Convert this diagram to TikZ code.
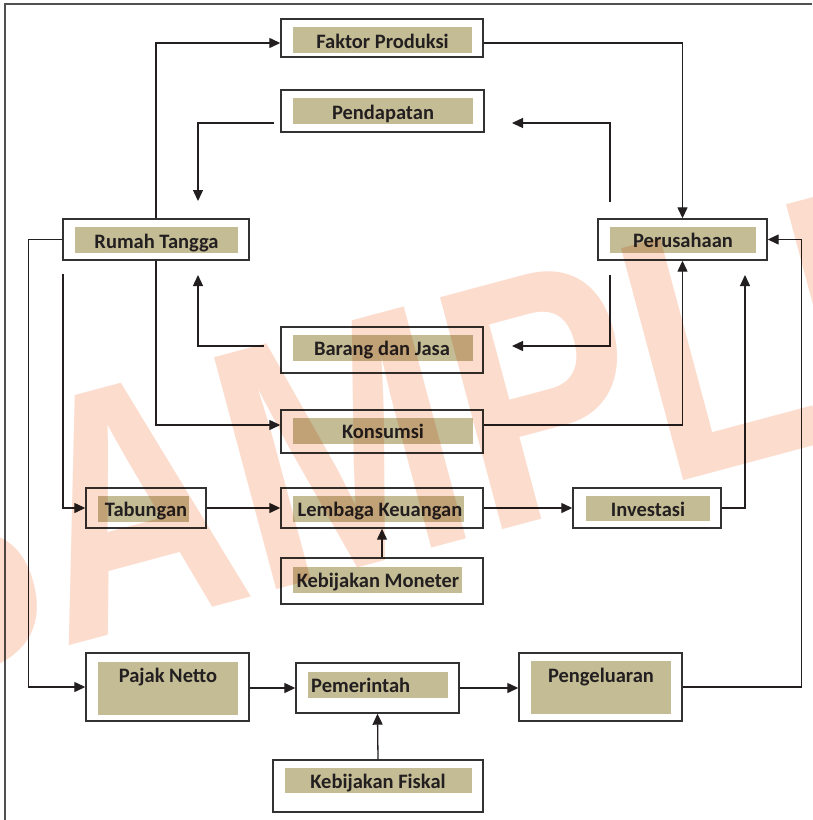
\documentclass[tikz,border=0pt]{standalone}
\usepackage{fontspec}
\setmainfont{Carlito}
\newfontfamily\wmfont{Liberation Sans}
\usetikzlibrary{arrows.meta,fit}
\definecolor{tanfill}{RGB}{196,188,148}
\definecolor{ink}{RGB}{35,31,32}
\definecolor{boxline}{RGB}{50,50,50}
\definecolor{wmcol}{RGB}{252,220,205}
\definecolor{framecol}{RGB}{80,80,80}
\begin{document}
\begin{tikzpicture}[x=1pt,y=-1pt,
  outerbox/.style={draw=boxline, line width=1.4pt, fill=white, inner sep=0pt},
  tanbox/.style={fill=tanfill, inner sep=0pt},
  lbl/.style={font=\bfseries\fontsize{20.5}{24}\selectfont, text=ink, anchor=base, inner sep=0pt},
  conn/.style={draw=ink, line width=1.3pt},
  arr/.style={conn, -{Triangle[length=11pt,width=10pt]}},
  framestyle/.style={draw=framecol, line width=1.3pt}
]
\useasboundingbox (0,0) rectangle (812,820);
\fill[white] (0,0) rectangle (812,820);
\draw[framestyle] (812,4) -- (5,4) -- (5,820);

% boxes
\node[outerbox, fit={(281,19)(483,57)}] (fp) {};
\node[tanbox, fit={(293,27)(472,53)}] (fp-in) {};
\node[lbl] (fp-t) at (382.5,48) {Faktor Produksi};

\node[outerbox, fit={(281,90)(484,132)}] (pd) {};
\node[tanbox, fit={(293,98)(473,124)}] (pd-in) {};
\node[lbl] (pd-t) at (383,119) {Pendapatan};

\node[outerbox, fit={(63,219)(249,260)}] (rt) {};
\node[tanbox, fit={(75,227)(238,253)}] (rt-in) {};
\node[lbl] (rt-t) at (156.5,248) {Rumah Tangga};

\node[outerbox, fit={(598,219)(767,260)}] (ps) {};
\node[tanbox, fit={(610,227)(756,253)}] (ps-in) {};
\node[lbl] (ps-t) at (683,247.5) {Perusahaan};

\node[outerbox, fit={(281,327)(483,373)}] (bj) {};
\node[tanbox, fit={(293,335)(473,361)}] (bj-in) {};
\node[lbl] (bj-t) at (382,355) {Barang dan Jasa};

\node[outerbox, fit={(281,410)(483,453)}] (ks) {};
\node[tanbox, fit={(293,418)(473,444)}] (ks-in) {};
\node[lbl] (ks-t) at (383,438.5) {Konsumsi};

\node[outerbox, fit={(86,488)(206,528)}] (tb) {};
\node[tanbox, fit={(98,496)(189,522)}] (tb-in) {};
\node[lbl] (tb-t) at (146,516.5) {Tabungan};

\node[outerbox, fit={(281,488)(483,528)}] (lk) {};
\node[tanbox, fit={(293,496)(464,522)}] (lk-in) {};
\node[lbl] (lk-t) at (380,516.5) {Lembaga Keuangan};

\node[outerbox, fit={(573,488)(721,528)}] (inv) {};
\node[tanbox, fit={(586,496)(710,521)}] (inv-in) {};
\node[lbl] (inv-t) at (648,516.5) {Investasi};

\node[outerbox, fit={(281,558)(483,604)}] (km) {};
\node[tanbox, fit={(293,567)(462,593)}] (km-in) {};
\node[lbl] (km-t) at (378,587.5) {Kebijakan Moneter};

\node[outerbox, fit={(86,653)(249,721)}] (pn) {};
\node[tanbox, fit={(98,662)(238,715)}] (pn-in) {};
\node[lbl] (pn-t) at (168,682) {Pajak Netto};

\node[outerbox, fit={(296,663)(459,713)}] (pm) {};
\node[tanbox, fit={(308,672)(448,698)}] (pm-in) {};
\node[lbl, anchor=base west] (pm-t) at (311,692) {Pemerintah};

\node[outerbox, fit={(519,653)(682,721)}] (pg) {};
\node[tanbox, fit={(531,661)(671,714)}] (pg-in) {};
\node[lbl] (pg-t) at (601,682) {Pengeluaran};

\node[outerbox, fit={(273,760)(483,812)}] (kf) {};
\node[tanbox, fit={(285,768)(472,793)}] (kf-in) {};
\node[lbl] (kf-t) at (378,788) {Kebijakan Fiskal};

% free ends
\coordinate (a1) at (610,202);
\coordinate (a1e) at (512,123);
\coordinate (a2) at (274,123);
\coordinate (a2e) at (198,201);
\coordinate (a3) at (264,346);
\coordinate (a3e) at (198,275);
\coordinate (a4) at (610,275);
\coordinate (a4e) at (512,346);
\coordinate (a5) at (63,274);
\coordinate (a6e) at (745,275);

% connectors
\draw[arr] (rt.north) |- ([yshift=-5pt]fp.west);
\draw[arr] ([yshift=-5pt]fp.east) -| (ps.north);
\draw[arr] (a1) |- (a1e);
\draw[arr] (a2) -| (a2e);
\draw[arr] (a3) -| (a3e);
\draw[arr] (a4) |- (a4e);
\draw[arr] (rt.south) |- ([yshift=6.5pt]ks.west);
\draw[arr] ([yshift=6.5pt]ks.east) -| (ps.south);
\draw[arr] (a5) |- (tb.west);
\draw[arr] (tb.east) -- (lk.west);
\draw[arr] (km.north) -- (lk.south);
\draw[arr] (lk.east) -- (inv.west);
\draw[arr] (inv.east) -| (a6e);
\draw[arr] (rt.west) -- ++(-34,0) |- (pn.west);
\draw[arr] (pn.east |- pm.west) -- (pm.west);
\draw[arr] (pm.east) -- (pg.west |- pm.east);
\draw[arr] (pg.east) -| ([xshift=34pt]ps.east) -- (ps.east);
\draw[arr] (kf.north) -- (pm.south);

% watermark
\begin{scope}[blend mode=multiply]
\clip (0,0) rectangle (812,820);
\node[font=\wmfont\bfseries\fontsize{349}{349}\selectfont, text=wmcol, rotate=15, xscale=0.805, anchor=base west, inner sep=0pt] (wmk) at (-119,696) {SAMPLE};
\end{scope}
\end{tikzpicture}
\end{document}
